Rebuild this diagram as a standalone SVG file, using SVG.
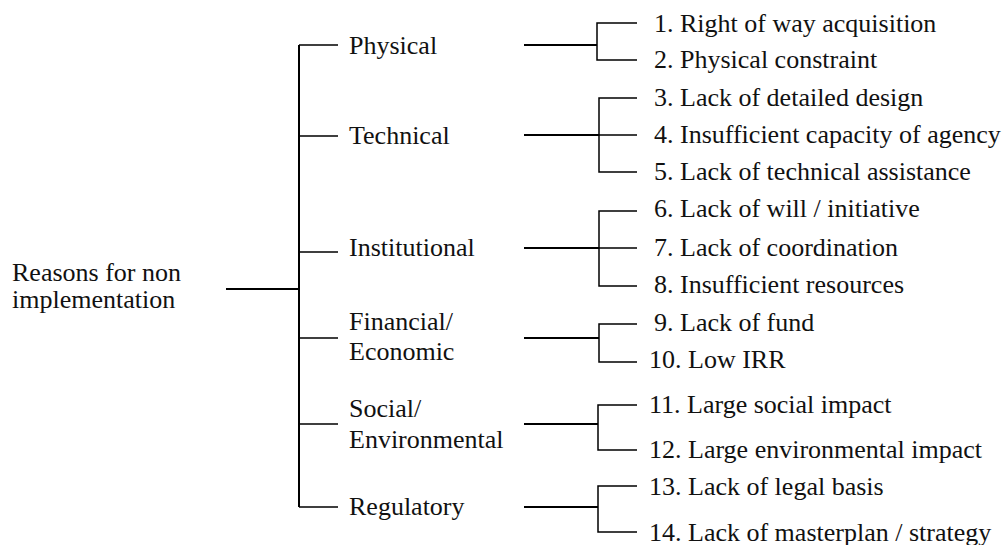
<svg xmlns="http://www.w3.org/2000/svg" width="1007" height="545" viewBox="0 0 1007 545">
  <style>
    .lbl { font-family: 'Liberation Serif', 'DejaVu Serif', 'Times New Roman', Times, serif; font-size: 26px; fill: #111; }
    .trunk { stroke: #000; stroke-width: 2; fill: none; }
    .twig { stroke: #000; stroke-width: 1.5; fill: none; }
  </style>
  <rect width="1007" height="545" fill="#fff"/>

  <!-- connectors -->
  <g id="connectors">
    <!-- root to category spine -->
    <path class="trunk" d="M226 289 H299 M299 45 V507"/>
    <path class="twig" d="M299 45 H338 M299 136 H338 M299 252 H338 M299 338 H338 M299 424 H338 M299 507 H338"/>
    <!-- category to reason brackets -->
    <path class="trunk" d="M524 45 H597 M524 135 H599 M524 248 H599 M524 338 H599 M524 424 H598 M524 507 H598"/>
    <path class="twig" d="M637 23 H597 V60 H637"/>
    <path class="twig" d="M637 98 H599 V172 H637 M599 135 H637"/>
    <path class="twig" d="M637 211 H599 V286 H637 M599 248 H637"/>
    <path class="twig" d="M637 324 H599 V362 H637"/>
    <path class="twig" d="M637 405 H598 V450 H637"/>
    <path class="twig" d="M637 486 H598 V532 H637"/>
  </g>

  <g class="lbl" font-family="Liberation Serif, serif">
    <!-- root -->
    <g id="root">
      <text x="12" y="281">Reasons for non</text>
      <text x="12" y="308">implementation</text>
    </g>

    <!-- categories -->
    <g id="cat-physical"><text x="349" y="54">Physical</text></g>
    <g id="cat-technical"><text x="349" y="144">Technical</text></g>
    <g id="cat-institutional"><text x="349" y="256">Institutional</text></g>
    <g id="cat-financial"><text x="349" y="330">Financial/</text><text x="349" y="360">Economic</text></g>
    <g id="cat-social"><text x="349" y="417">Social/</text><text x="349" y="448">Environmental</text></g>
    <g id="cat-regulatory"><text x="349" y="515">Regulatory</text></g>

    <!-- reasons -->
    <g id="r1"><text x="654" y="32">1. Right of way acquisition</text></g>
    <g id="r2"><text x="654" y="68">2. Physical constraint</text></g>
    <g id="r3"><text x="654" y="106">3. Lack of detailed design</text></g>
    <g id="r4"><text x="654" y="143">4. Insufficient capacity of agency</text></g>
    <g id="r5"><text x="654" y="180">5. Lack of technical assistance</text></g>
    <g id="r6"><text x="654" y="217">6. Lack of will / initiative</text></g>
    <g id="r7"><text x="654" y="256">7. Lack of coordination</text></g>
    <g id="r8"><text x="654" y="293">8. Insufficient resources</text></g>
    <g id="r9"><text x="654" y="331">9. Lack of fund</text></g>
    <g id="r10"><text x="649" y="368">10. Low IRR</text></g>
    <g id="r11"><text x="649" y="413">11. Large social impact</text></g>
    <g id="r12"><text x="649" y="458">12. Large environmental impact</text></g>
    <g id="r13"><text x="649" y="495">13. Lack of legal basis</text></g>
    <g id="r14"><text x="649" y="541">14. Lack of masterplan / strategy</text></g>
  </g>
</svg>
